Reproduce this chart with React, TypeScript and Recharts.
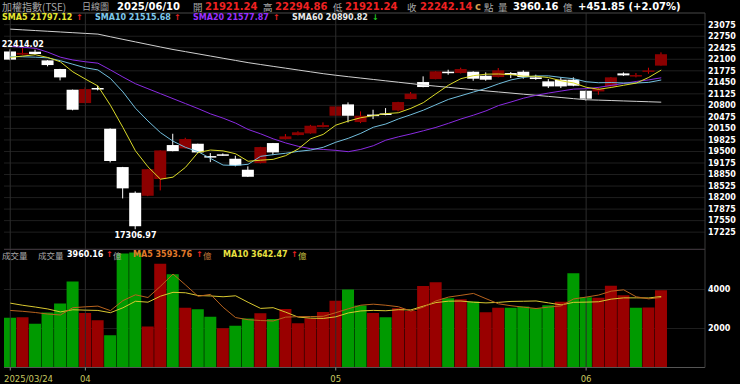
import {
  ComposedChart,
  Bar,
  Line,
  XAxis,
  YAxis,
  CartesianGrid,
  ReferenceLine,
  ReferenceDot,
  Cell,
} from "recharts";

// 加權指數 daily candles, 2025/03/24 - 2025/06/10
const dates = [
  "2025/03/24", "2025/03/25", "2025/03/26", "2025/03/27", "2025/03/28", "2025/03/31",
  "2025/04/01", "2025/04/02", "2025/04/07", "2025/04/08", "2025/04/09", "2025/04/10",
  "2025/04/11", "2025/04/14", "2025/04/15", "2025/04/16", "2025/04/17", "2025/04/18",
  "2025/04/21", "2025/04/22", "2025/04/23", "2025/04/24", "2025/04/25", "2025/04/28",
  "2025/04/29", "2025/04/30", "2025/05/02", "2025/05/05", "2025/05/06", "2025/05/07",
  "2025/05/08", "2025/05/09", "2025/05/12", "2025/05/13", "2025/05/14", "2025/05/15",
  "2025/05/16", "2025/05/19", "2025/05/20", "2025/05/21", "2025/05/22", "2025/05/23",
  "2025/05/26", "2025/05/27", "2025/05/28", "2025/05/29", "2025/06/02", "2025/06/03",
  "2025/06/04", "2025/06/05", "2025/06/06", "2025/06/09", "2025/06/10",
];

const opens = [
  22320, 22230, 22313, 22069, 21825, 21241, 20865, 21290, 20141, 19060, 18336, 18251,
  18722, 19681, 19586, 19718, 19370, 19420, 19295, 18985, 19173, 19737, 19850, 19963,
  20010, 20188, 20508, 20828, 20329, 20540, 20573, 20658, 20978, 21458, 21542, 21750,
  21712, 21749, 21636, 21599, 21712, 21749, 21590, 21477, 21524, 21524, 21213, 21194,
  21336, 21702, 21627, 21749, 21921.24,
];
const highs = [
  22380, 22414.02, 22370, 22075, 21830, 21245, 21307, 21355, 20150, 19065, 18374, 19004,
  19529, 20000, 19887, 19720, 19455, 19445, 19380, 19080, 19630, 19740, 19991, 20070,
  20250, 20320, 20775, 20884, 20630, 20677, 20724, 20900, 21176, 21618, 21765, 21806,
  21862, 21760, 21730, 21853, 21740, 21787, 21665, 21543, 21590, 21590, 21220, 21317,
  21600, 21730, 21712, 21862, 22294.86,
];
const lows = [
  22070, 22215, 22230, 21900, 21505, 20660, 20860, 21222, 19192, 18176, 17306.97, 18240,
  18402, 19505, 19580, 19450, 19200, 19380, 19080, 18780, 19165, 19398, 19840, 19955,
  20000, 20180, 20500, 20320, 20300, 20414, 20520, 20630, 20970, 21310, 21535, 21665,
  21700, 21495, 21495, 21590, 21571, 21552, 21520, 21289, 21289, 21340, 20931, 21100,
  21330, 21630, 21590, 21693, 21921.24,
];
const closes = [
  22090, 22280, 22248, 21937, 21589, 20677, 21260, 21270, 19232, 18460, 17392, 19000,
  19529, 19511, 19850, 19474, 19350, 19400, 19107, 18787, 19624, 19474, 19925, 20041,
  20226, 20245, 20771, 20508, 20508, 20520, 20530, 20893, 21129, 21317, 21759, 21740,
  21824, 21552, 21524, 21787, 21655, 21599, 21543, 21335, 21335, 21354, 20988, 21260,
  21590, 21646, 21655, 21787, 22242.14,
];

const sma5 = [
  22153, 22190, 22229, 22150, 22029, 21746, 21542, 21347, 20803, 20177, 19519, 19068,
  18718, 18776, 19054, 19472, 19541, 19517, 19436, 19224, 19254, 19278, 19383, 19570,
  19858, 19982, 20242, 20358, 20452, 20510, 20567, 20592, 20716, 20878, 21126, 21368,
  21554, 21638, 21680, 21685, 21668, 21623, 21622, 21584, 21493, 21433, 21311, 21254,
  21305, 21368, 21428, 21588, 21797.12,
];
const sma10 = [
  22181, 22170, 22160, 22140, 22060, 21960, 21860, 21800, 21560, 21180, 20720, 20360,
  20032, 19790, 19616, 19495, 19304, 19117, 19106, 19139, 19363, 19410, 19450, 19503,
  19541, 19618, 19760, 19871, 20011, 20184, 20275, 20417, 20537, 20665, 20818, 20968,
  21073, 21177, 21279, 21406, 21518, 21589, 21630, 21632, 21589, 21551, 21467, 21438,
  21445, 21431, 21431, 21449, 21515.68,
];
const sma20 = [
  22463, 22440, 22410, 22300, 22160, 22080, 22030, 21990, 21800, 21600, 21410, 21270,
  21130, 20990, 20850, 20710, 20560, 20440, 20300, 20121, 19998, 19857, 19741, 19646,
  19578, 19557, 19532, 19494, 19559, 19662, 19819, 19913, 19994, 20084, 20179, 20293,
  20416, 20524, 20645, 20795, 20896, 21003, 21084, 21148, 21204, 21259, 21270, 21308,
  21362, 21418, 21474, 21519, 21577.87,
];
const sma60 = [
  22950, 22930, 22910, 22890, 22870, 22850, 22830, 22810, 22735, 22662, 22590, 22518,
  22446, 22376, 22315, 22253, 22191, 22129, 22067, 22005, 21952, 21900, 21849, 21797,
  21746, 21694, 21650, 21609, 21570, 21531, 21492, 21453, 21414, 21375, 21342, 21309,
  21275, 21242, 21209, 21178, 21147, 21115, 21084, 21053, 21022, 20990, 20959, 20948,
  20937, 20925, 20914, 20902, 20890.82,
];

// 成交量 (億)
const volumes = [
  2545, 2580, 2237, 2820, 3283, 4410, 2800, 2427, 1657, 5850, 5900, 2103,
  5316, 4786, 3058, 2990, 2597, 2016, 2140, 2510, 2775, 2485, 3000, 2265,
  2528, 2840, 3418, 4000, 3180, 2790, 2570, 3040, 2900, 4180, 4376, 3550,
  3495, 3386, 2837, 3058, 3058, 3129, 3040, 3196, 3365, 4838, 3606, 3571,
  4186, 3709, 3058, 3075, 3960.16,
];
// 1 = up day (red), 0 = down day (green)
const volumeRise = [
  0, 1, 0, 0, 0, 0, 1, 1, 0, 0, 0, 1,
  1, 0, 1, 0, 0, 1, 0, 0, 1, 0, 1, 1,
  1, 1, 1, 0, 0, 1, 0, 1, 1, 1, 1, 0,
  1, 0, 1, 1, 0, 0, 0, 0, 1, 0, 0, 1,
  1, 1, 0, 1, 1,
];
const volMa5 = [
  2924, 2880, 2820, 2740, 2693, 3066, 3110, 3148, 2915, 3429, 3727, 3587,
  4165, 4791, 4233, 3651, 3749, 3089, 2560, 2451, 2408, 2385, 2582, 2607,
  2611, 2624, 2810, 3010, 3193, 3246, 3192, 3116, 2896, 3096, 3413, 3609,
  3700, 3797, 3529, 3265, 3167, 3094, 3024, 3096, 3158, 3514, 3609, 3715,
  3913, 3982, 3626, 3520, 3593.76,
];
const volMa10 = [
  3300, 3190, 3100, 3000, 2850, 2960, 2940, 2925, 2810, 3061, 3396, 3349,
  3657, 3853, 3831, 3689, 3668, 3627, 3676, 3342, 3029, 3067, 2836, 2584,
  2531, 2516, 2598, 2796, 2900, 2928, 2908, 2963, 2953, 3145, 3329, 3400,
  3408, 3347, 3312, 3339, 3388, 3397, 3411, 3313, 3211, 3340, 3351, 3370,
  3505, 3570, 3570, 3564, 3642.47,
];

const priceTicks = [
  17225, 17550, 17875, 18200, 18525, 18850, 19175, 19500, 19825, 20150,
  20475, 20800, 21125, 21450, 21775, 22100, 22425, 22750, 23075,
];
const volumeTicks = [2000, 4000];
const monthTicks = ["2025/03/24", "2025/04/01", "2025/05/02", "2025/06/02"];

const PRICE_DOMAIN: [number, number] = [16750, 23405];
const VOLUME_DOMAIN: [number, number] = [0, 6075];

const FONT = '"DejaVu Sans", "Noto Sans CJK TC", sans-serif';
const CJK = '"Noto Sans CJK TC", "DejaVu Sans", sans-serif';
const GRAY = "#a8a8a8";
const RED = "#ee2222";
const GRID = "#1f1f1f";
const VGRID = "#2c2c2c";

const priceData = dates.map((date, i) => ({
  date,
  range: [lows[i], highs[i]],
  open: opens[i],
  high: highs[i],
  low: lows[i],
  close: closes[i],
  sma5: sma5[i],
  sma10: sma10[i],
  sma20: sma20[i],
  sma60: sma60[i],
}));

const volumeData = dates.map((date, i) => ({
  date,
  volume: volumes[i],
  rise: volumeRise[i] === 1,
  ma5: volMa5[i],
  ma10: volMa10[i],
}));

function Candle(props: any) {
  const { x, y, width, height, payload } = props;
  const { open, close, high, low } = payload;
  const k = height / (high - low);
  const py = (v: number) => y + (high - v) * k;
  const up = close > open;
  const top = py(Math.max(open, close));
  const bottom = py(Math.min(open, close));
  const cx = x + width / 2;
  return (
    <g>
      <line x1={cx} x2={cx} y1={y} y2={y + height} stroke={up ? "#d40000" : "#ffffff"} strokeWidth={1} />
      <rect x={x} y={top} width={width} height={Math.max(bottom - top, 1.5)} fill={up ? "#8b0000" : "#ffffff"} />
    </g>
  );
}

function DateTick(props: any) {
  const { x, y, payload, index } = props;
  const first = index === 0;
  return (
    <text
      x={first ? x - 6.25 : x}
      y={y + 9}
      textAnchor={first ? "start" : "middle"}
      fill="#c8c860"
      fontSize={8.5}
      fontFamily={FONT}
    >
      {first ? payload.value : payload.value.slice(5, 7)}
    </text>
  );
}

function T({ x, y, c, s = 8, b = true, f = FONT, children }: any) {
  return (
    <span
      style={{
        position: "absolute",
        left: x,
        top: y,
        color: c,
        fontSize: s,
        fontWeight: b ? 700 : 400,
        fontFamily: f,
        lineHeight: "12px",
        whiteSpace: "nowrap",
      }}
    >
      {children}
    </span>
  );
}

const axisTick = { fill: "#ffffff", fontSize: 8, fontWeight: 700, fontFamily: FONT };

export default function App() {
  return (
    <div
      style={{
        position: "absolute",
        left: 0,
        top: 0,
        width: 740,
        height: 384,
        background: "#000",
        overflow: "hidden",
      }}
    >
      <div style={{ position: "absolute", left: 0, top: 0 }}>
        <ComposedChart
          width={740}
          height={250}
          data={priceData}
          margin={{ top: 13, right: 0, left: 4, bottom: 1 }}
          barCategoryGap={0}
        >
          <CartesianGrid vertical={false} stroke={GRID} />
          <XAxis dataKey="date" hide padding={{ left: 0, right: 37.5 }} />
          <YAxis
            orientation="right"
            width={35}
            domain={PRICE_DOMAIN}
            ticks={priceTicks}
            interval={0}
            allowDataOverflow
            tickLine={false}
            tickSize={0}
            tickMargin={3}
            axisLine={{ stroke: "#3a3a3a" }}
            tick={axisTick}
          />
          {monthTicks.map((d) => (
            <ReferenceLine key={d} x={d} stroke={VGRID} />
          ))}
          <ReferenceLine y={PRICE_DOMAIN[1]} stroke="#3a3a3a" />
          <Bar dataKey="range" barSize={12} shape={Candle} isAnimationActive={false} />
          <Line type="linear" dataKey="sma60" stroke="#d0d0d0" strokeWidth={1} dot={false} isAnimationActive={false} />
          <Line type="linear" dataKey="sma20" stroke="#8a2be2" strokeWidth={1} dot={false} isAnimationActive={false} />
          <Line type="linear" dataKey="sma10" stroke="#72bedd" strokeWidth={1} dot={false} isAnimationActive={false} />
          <Line type="linear" dataKey="sma5" stroke="#dada28" strokeWidth={1} dot={false} isAnimationActive={false} />
          <ReferenceDot
            x={dates[1]}
            y={highs[1]}
            r={0}
            label={{ value: highs[1].toFixed(2), position: "top", offset: 1, fill: "#fff", fontSize: 8, fontWeight: 700, fontFamily: FONT }}
          />
          <ReferenceDot
            x={dates[10]}
            y={lows[10]}
            r={0}
            label={{ value: lows[10].toFixed(2), position: "bottom", offset: 3, fill: "#fff", fontSize: 8, fontWeight: 700, fontFamily: FONT }}
          />
        </ComposedChart>
      </div>

      <div style={{ position: "absolute", left: 0, top: 249 }}>
        <ComposedChart
          width={740}
          height={135}
          data={volumeData}
          margin={{ top: 0, right: 0, left: 4, bottom: 0 }}
          barCategoryGap={0}
        >
          <CartesianGrid vertical={false} stroke={GRID} />
          <XAxis
            dataKey="date"
            height={16.5}
            ticks={monthTicks}
            interval={0}
            padding={{ left: 0, right: 37.5 }}
            axisLine={{ stroke: "#555" }}
            tickLine={{ stroke: "#888" }}
            tickSize={3}
            tickMargin={2}
            tick={<DateTick />}
          />
          <YAxis
            orientation="right"
            width={35}
            domain={VOLUME_DOMAIN}
            ticks={volumeTicks}
            interval={0}
            allowDataOverflow
            tickLine={false}
            tickSize={0}
            tickMargin={3}
            axisLine={{ stroke: "#3a3a3a" }}
            tick={axisTick}
          />
          {monthTicks.map((d) => (
            <ReferenceLine key={d} x={d} stroke={VGRID} />
          ))}
          <ReferenceLine y={VOLUME_DOMAIN[1]} stroke="#5c4a58" />
          <Bar dataKey="volume" barSize={12} isAnimationActive={false}>
            {volumeData.map((d) => (
              <Cell key={d.date} fill={d.rise ? "#990000" : "#009a00"} />
            ))}
          </Bar>
          <Line type="linear" dataKey="ma10" stroke="#d8c830" strokeWidth={1} dot={false} isAnimationActive={false} />
          <Line type="linear" dataKey="ma5" stroke="#b8641e" strokeWidth={1} dot={false} isAnimationActive={false} />
        </ComposedChart>
      </div>

      {/* header line 1 */}
      <T x={2} y={1} c={GRAY} s={10} b={false} f={CJK}>加權指數(TSE)</T>
      <T x={82} y={1} c={GRAY} s={9} b={false} f={CJK}>日線圖</T>
      <T x={117} y={1} c="#fff" s={10}>2025/06/10</T>
      <T x={193} y={1} c={GRAY} s={9.5} b={false} f={CJK}>開</T>
      <T x={205} y={1} c={RED} s={10}>{opens[52].toFixed(2)}</T>
      <T x={263} y={1} c={GRAY} s={9.5} b={false} f={CJK}>高</T>
      <T x={275} y={1} c={RED} s={10}>{highs[52].toFixed(2)}</T>
      <T x={333} y={1} c={GRAY} s={9.5} b={false} f={CJK}>低</T>
      <T x={345} y={1} c={RED} s={10}>{lows[52].toFixed(2)}</T>
      <T x={407} y={1} c={GRAY} s={9.5} b={false} f={CJK}>收</T>
      <T x={420} y={1} c={RED} s={10}>{closes[52].toFixed(2)}</T>
      <T x={475} y={1} c="#d0a050" s={10}>c</T>
      <T x={484} y={1} c={GRAY} s={9.5} b={false} f={CJK}>點</T>
      <T x={498} y={1} c={GRAY} s={9.5} b={false} f={CJK}>量</T>
      <T x={513} y={1} c="#fff" s={10}>{volumes[52].toFixed(2)}</T>
      <T x={563} y={1} c={GRAY} s={9.5} b={false} f={CJK}>億</T>
      <T x={578} y={1} c="#fff" s={10}>+451.85 (+2.07%)</T>

      {/* header line 2 */}
      <T x={2} y={12} c="#e8e830">SMA5 {sma5[52].toFixed(2)}</T>
      <T x={76} y={12} c={RED}>↑</T>
      <T x={95} y={12} c="#7ec8ea">SMA10 {sma10[52].toFixed(2)}</T>
      <T x={174} y={12} c={RED}>↑</T>
      <T x={193} y={12} c="#9b30ff">SMA20 {sma20[52].toFixed(2)}</T>
      <T x={273} y={12} c={RED}>↑</T>
      <T x={292} y={12} c="#e8e8e8">SMA60 {sma60[52].toFixed(2)}</T>
      <T x={372} y={12} c="#22cc22">↓</T>

      {/* volume header */}
      <T x={2} y={249} c={GRAY} s={8.5} b={false} f={CJK}>成交量</T>
      <T x={38} y={249} c={GRAY} s={8.5} b={false} f={CJK}>成交量</T>
      <T x={67} y={249} c="#fff">{volumes[52].toFixed(2)}</T>
      <T x={106} y={249} c={RED}>↑</T>
      <T x={113} y={249} c={GRAY} s={8.5} b={false} f={CJK}>億</T>
      <T x={133} y={249} c="#e07a2a">MA5 {volMa5[52].toFixed(2)}</T>
      <T x={196} y={249} c={RED}>↑</T>
      <T x={203} y={249} c="#c07a3a" s={8.5} b={false} f={CJK}>億</T>
      <T x={223} y={249} c="#e8e040">MA10 {volMa10[52].toFixed(2)}</T>
      <T x={291} y={249} c={RED}>↑</T>
      <T x={298} y={249} c="#c8c040" s={8.5} b={false} f={CJK}>億</T>
    </div>
  );
}
